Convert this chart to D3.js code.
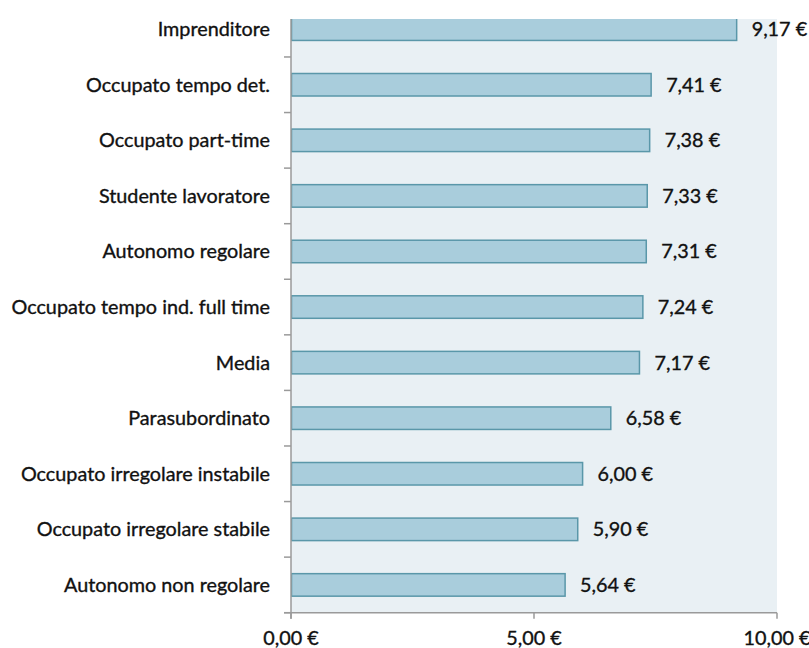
<!DOCTYPE html>
<html><head><meta charset="utf-8">
<script src="https://cdn.jsdelivr.net/npm/d3@7"></script>
<style>
html,body{margin:0;padding:0;background:#fff;}
svg text{font-family:Lato,"Open Sans",sans-serif;fill:#111;stroke:#111;stroke-width:0.35px;}
</style></head>
<body>
<svg id="c" width="809" height="648"></svg>
<script>
const categories = ["Imprenditore","Occupato tempo det.","Occupato part-time","Studente lavoratore","Autonomo regolare","Occupato tempo ind. full time","Media","Parasubordinato","Occupato irregolare instabile","Occupato irregolare stabile","Autonomo non regolare"];
const values = [9.17,7.41,7.38,7.33,7.31,7.24,7.17,6.58,6.00,5.90,5.64];
const xTicks = [0,5,10];

const fmt = v => d3.format(".2f")(v).replace(".", ",") + " €";
const svg = d3.select("#c");
const pLeft = 291, pRight = 777, pTop = 1.4, pBottom = 612.7, plotTop = 19;
const fs = 19.8;

const x = d3.scaleLinear().domain([0,10]).range([pLeft,pRight]);
const y = d3.scaleBand().domain(categories).range([pTop,pBottom]).paddingInner(0.595).paddingOuter(0.2975);

const defs = svg.append("defs");
defs.append("clipPath").attr("id","clip").append("rect")
  .attr("x",pLeft).attr("y",plotTop).attr("width",pRight-pLeft).attr("height",pBottom-plotTop);

svg.append("rect").attr("x",pLeft).attr("y",plotTop).attr("width",pRight-pLeft).attr("height",pBottom-plotTop)
  .attr("fill","#e9f0f4");

svg.append("g").attr("clip-path","url(#clip)").selectAll("rect.bar").data(values).join("rect")
  .attr("class","bar")
  .attr("x",x(0)+0.5)
  .attr("y",(d,i)=>y(categories[i]))
  .attr("width",d=>x(d)-x(0)-0.5)
  .attr("height",y.bandwidth())
  .attr("fill","#a9cddc").attr("stroke","#5a97a9").attr("stroke-width",1.5);

// value labels
svg.selectAll("text.val").data(values).join("text")
  .attr("class","val")
  .attr("x",d=>x(d)+15)
  .attr("y",(d,i)=>y(categories[i])+y.bandwidth()/2)
  .attr("dy","0.35em")
  .attr("font-size",fs)
  .text(d=>fmt(d));

// y axis
const yAxisG = svg.append("g");
yAxisG.append("line").attr("x1",pLeft).attr("x2",pLeft).attr("y1",plotTop).attr("y2",pBottom+6)
  .attr("stroke","#9a9a9a").attr("stroke-width",1.5);
const bounds = categories.map((c,i)=> pTop + y.step()*(i+1));
yAxisG.selectAll("line.tk").data(bounds.filter(b=>b>plotTop)).join("line").attr("class","tk")
  .attr("x1",pLeft-7).attr("x2",pLeft).attr("y1",d=>d).attr("y2",d=>d)
  .attr("stroke","#9a9a9a").attr("stroke-width",1.5);
yAxisG.selectAll("text.cat").data(categories).join("text").attr("class","cat")
  .attr("x",270).attr("y",d=>y(d)+y.bandwidth()/2).attr("dy","0.35em")
  .attr("text-anchor","end").attr("font-size",fs).text(d=>d);

// x axis
const xAxisG = svg.append("g");
xAxisG.append("line").attr("x1",pLeft-7).attr("x2",pRight).attr("y1",pBottom).attr("y2",pBottom)
  .attr("stroke","#9a9a9a").attr("stroke-width",1.5);
xAxisG.selectAll("line.xt").data(xTicks).join("line").attr("class","xt")
  .attr("x1",d=>x(d)).attr("x2",d=>x(d)).attr("y1",pBottom).attr("y2",pBottom+6)
  .attr("stroke","#9a9a9a").attr("stroke-width",1.5);
xAxisG.selectAll("text.xl").data(xTicks).join("text").attr("class","xl")
  .attr("x",d=>x(d)).attr("y",645).attr("text-anchor","middle").attr("font-size",fs)
  .text(d=>fmt(d));
</script>
</body></html>
